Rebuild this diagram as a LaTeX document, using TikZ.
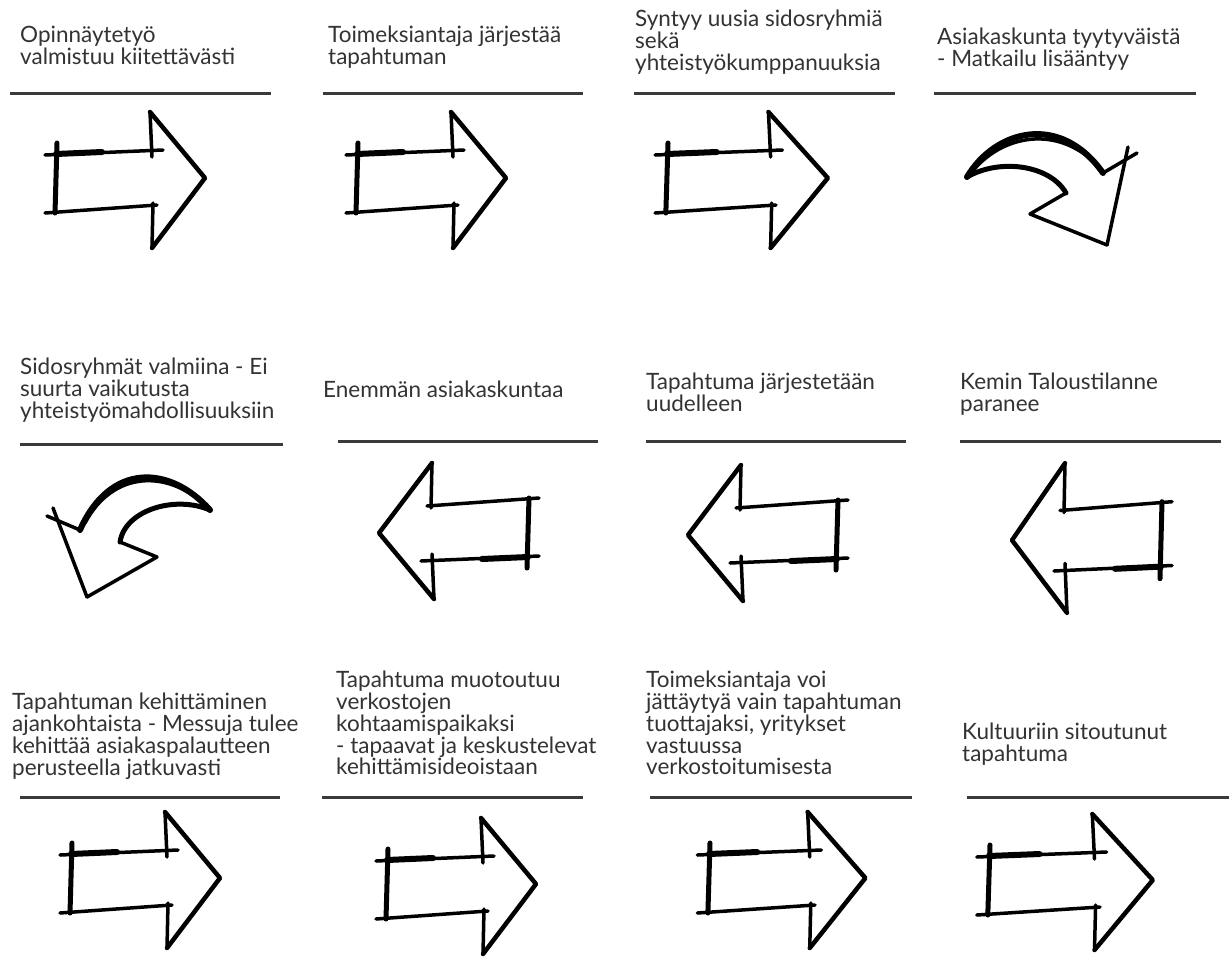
\documentclass[tikz,border=0pt]{standalone}
\usepackage{fontspec}
\setmainfont{Lato}
\usepackage{tikz}
\usetikzlibrary{positioning}
\definecolor{inkgrey}{HTML}{333333}
\definecolor{rulegrey}{HTML}{3A3A3A}
\tikzstyle{caption} = [anchor=north west, inner sep=0pt, align=left,
    text=inkgrey, font=\fontsize{22.5}{21.8}\selectfont]
\tikzstyle{divider} = [draw=rulegrey, line width=3pt]
\tikzstyle{ink} = [draw=black, line width=3.5pt, line cap=round, line join=round]
\tikzset{
  sketcharrow/.pic = {
    \draw[ink] (-12,-25) -- (106,-30);
    \draw[ink, line width=6pt] (-1,-26) -- (45,-28);
    \draw[ink] (-12,33) -- (100,25);
    \draw[ink, line width=5pt] (0,-37) -- (-2,33);
    \draw[ink] (93,-68) -- (95,-23);
    \draw[ink] (96,23) -- (95,68);
    \draw[ink, line width=4.5pt] (93,-68) -- (148,-2) -- (95,68);
  }
}

\begin{document}
\begin{tikzpicture}[x=1pt, y=-1pt]
    \fill[white] (0,0) rectangle (1232,967);
    \useasboundingbox (0,0) rectangle (1232,967);

    % first row
    \node[caption] (thesis) at (20,26) {Opinnäytetyö\\valmistuu kiitettävästi};
    \node[caption] (event) at (328,26) {Toimeksiantaja järjestää\\tapahtuman};
    \node[caption] (partners) at (635,10) {Syntyy uusia sidosryhmiä\\sekä\\yhteistyökumppanuuksia};
    \node[caption] (customers) at (937,28) {Asiakaskunta tyytyväistä\\- Matkailu lisääntyy};
    \draw[divider] (10,93) -- (271,93);
    \draw[divider] (323,93) -- (583,93);
    \draw[divider] (634,93) -- (895,93);
    \draw[divider] (934,93) -- (1196,93);
    \pic at (57,180) {sketcharrow};
    \pic at (358,180) {sketcharrow};
    \pic[xscale=1.08] at (668,180) {sketcharrow};
    % bent arrow, down to the right
    \draw[ink, line width=6pt] (967,177) .. controls (995,130) and (1060,112) .. (1103,173);
    \draw[ink] (972,172) .. controls (1000,136) and (1058,122) .. (1100,168);
    \draw[ink] (1103,173) -- (1137,153);
    \draw[ink] (1128,147) -- (1107,245);
    \draw[ink] (1107,245) -- (1030,214) -- (1066,193);
    \draw[ink, line width=5pt] (1066,193) .. controls (1050,165) and (1000,158) .. (967,177);

    % second row
    \node[caption] (stakeholders) at (20,358) {Sidosryhmät valmiina - Ei\\suurta vaikutusta\\yhteistyömahdollisuuksiin};
    \node[caption] (moreclients) at (323,381) {Enemmän asiakaskuntaa};
    \node[caption] (rerun) at (646,373) {Tapahtuma järjestetään\\uudelleen};
    \node[caption] (economy) at (960,373) {Kemin Taloustilanne\\paranee};
    \draw[divider] (20,444) -- (283,444);
    \draw[divider] (338,441) -- (598,441);
    \draw[divider] (646,441) -- (906,441);
    \draw[divider] (960,441) -- (1221,441);
    % bent arrow, down to the left
    \draw[ink, line width=6pt] (210,510) .. controls (170,465) and (110,462) .. (80,530);
    \draw[ink] (205,505) .. controls (168,470) and (113,470) .. (85,523);
    \draw[ink] (80,530) -- (47,516);
    \draw[ink] (53,508) -- (87,597);
    \draw[ink] (87,597) -- (157,557) -- (120,542);
    \draw[ink, line width=5pt] (120,542) .. controls (125,510) and (175,495) .. (210,510);
    \pic[rotate=180] at (527,531) {sketcharrow};
    \pic[rotate=180] at (836,533) {sketcharrow};
    \pic[rotate=180, yscale=1.1] at (1160,538) {sketcharrow};

    % third row
    \node[caption] (development) at (12,693) {Tapahtuman kehittäminen\\ajankohtaista - Messuja tulee\\kehittää asiakaspalautteen\\perusteella jatkuvasti};
    \node[caption] (network) at (336,671) {Tapahtuma muotoutuu\\verkostojen\\kohtaamispaikaksi\\- tapaavat ja keskustelevat\\kehittämisideoistaan};
    \node[caption] (producer) at (646,671) {Toimeksiantaja voi\\jättäytyä vain tapahtuman\\tuottajaksi, yritykset\\vastuussa\\verkostoitumisesta};
    \node[caption] (culture) at (962,723) {Kultuuriin sitoutunut\\tapahtuma};
    \draw[divider] (20,797) -- (280,797);
    \draw[divider] (322,797) -- (583,797);
    \draw[divider] (650,797) -- (912,797);
    \draw[divider] (967,797) -- (1229,797);
    \pic at (72,880) {sketcharrow};
    \pic at (388,886) {sketcharrow};
    \pic[xscale=1.05] at (710,880) {sketcharrow};
    \pic[xscale=1.1] at (990,882) {sketcharrow};
\end{tikzpicture}
\end{document}
